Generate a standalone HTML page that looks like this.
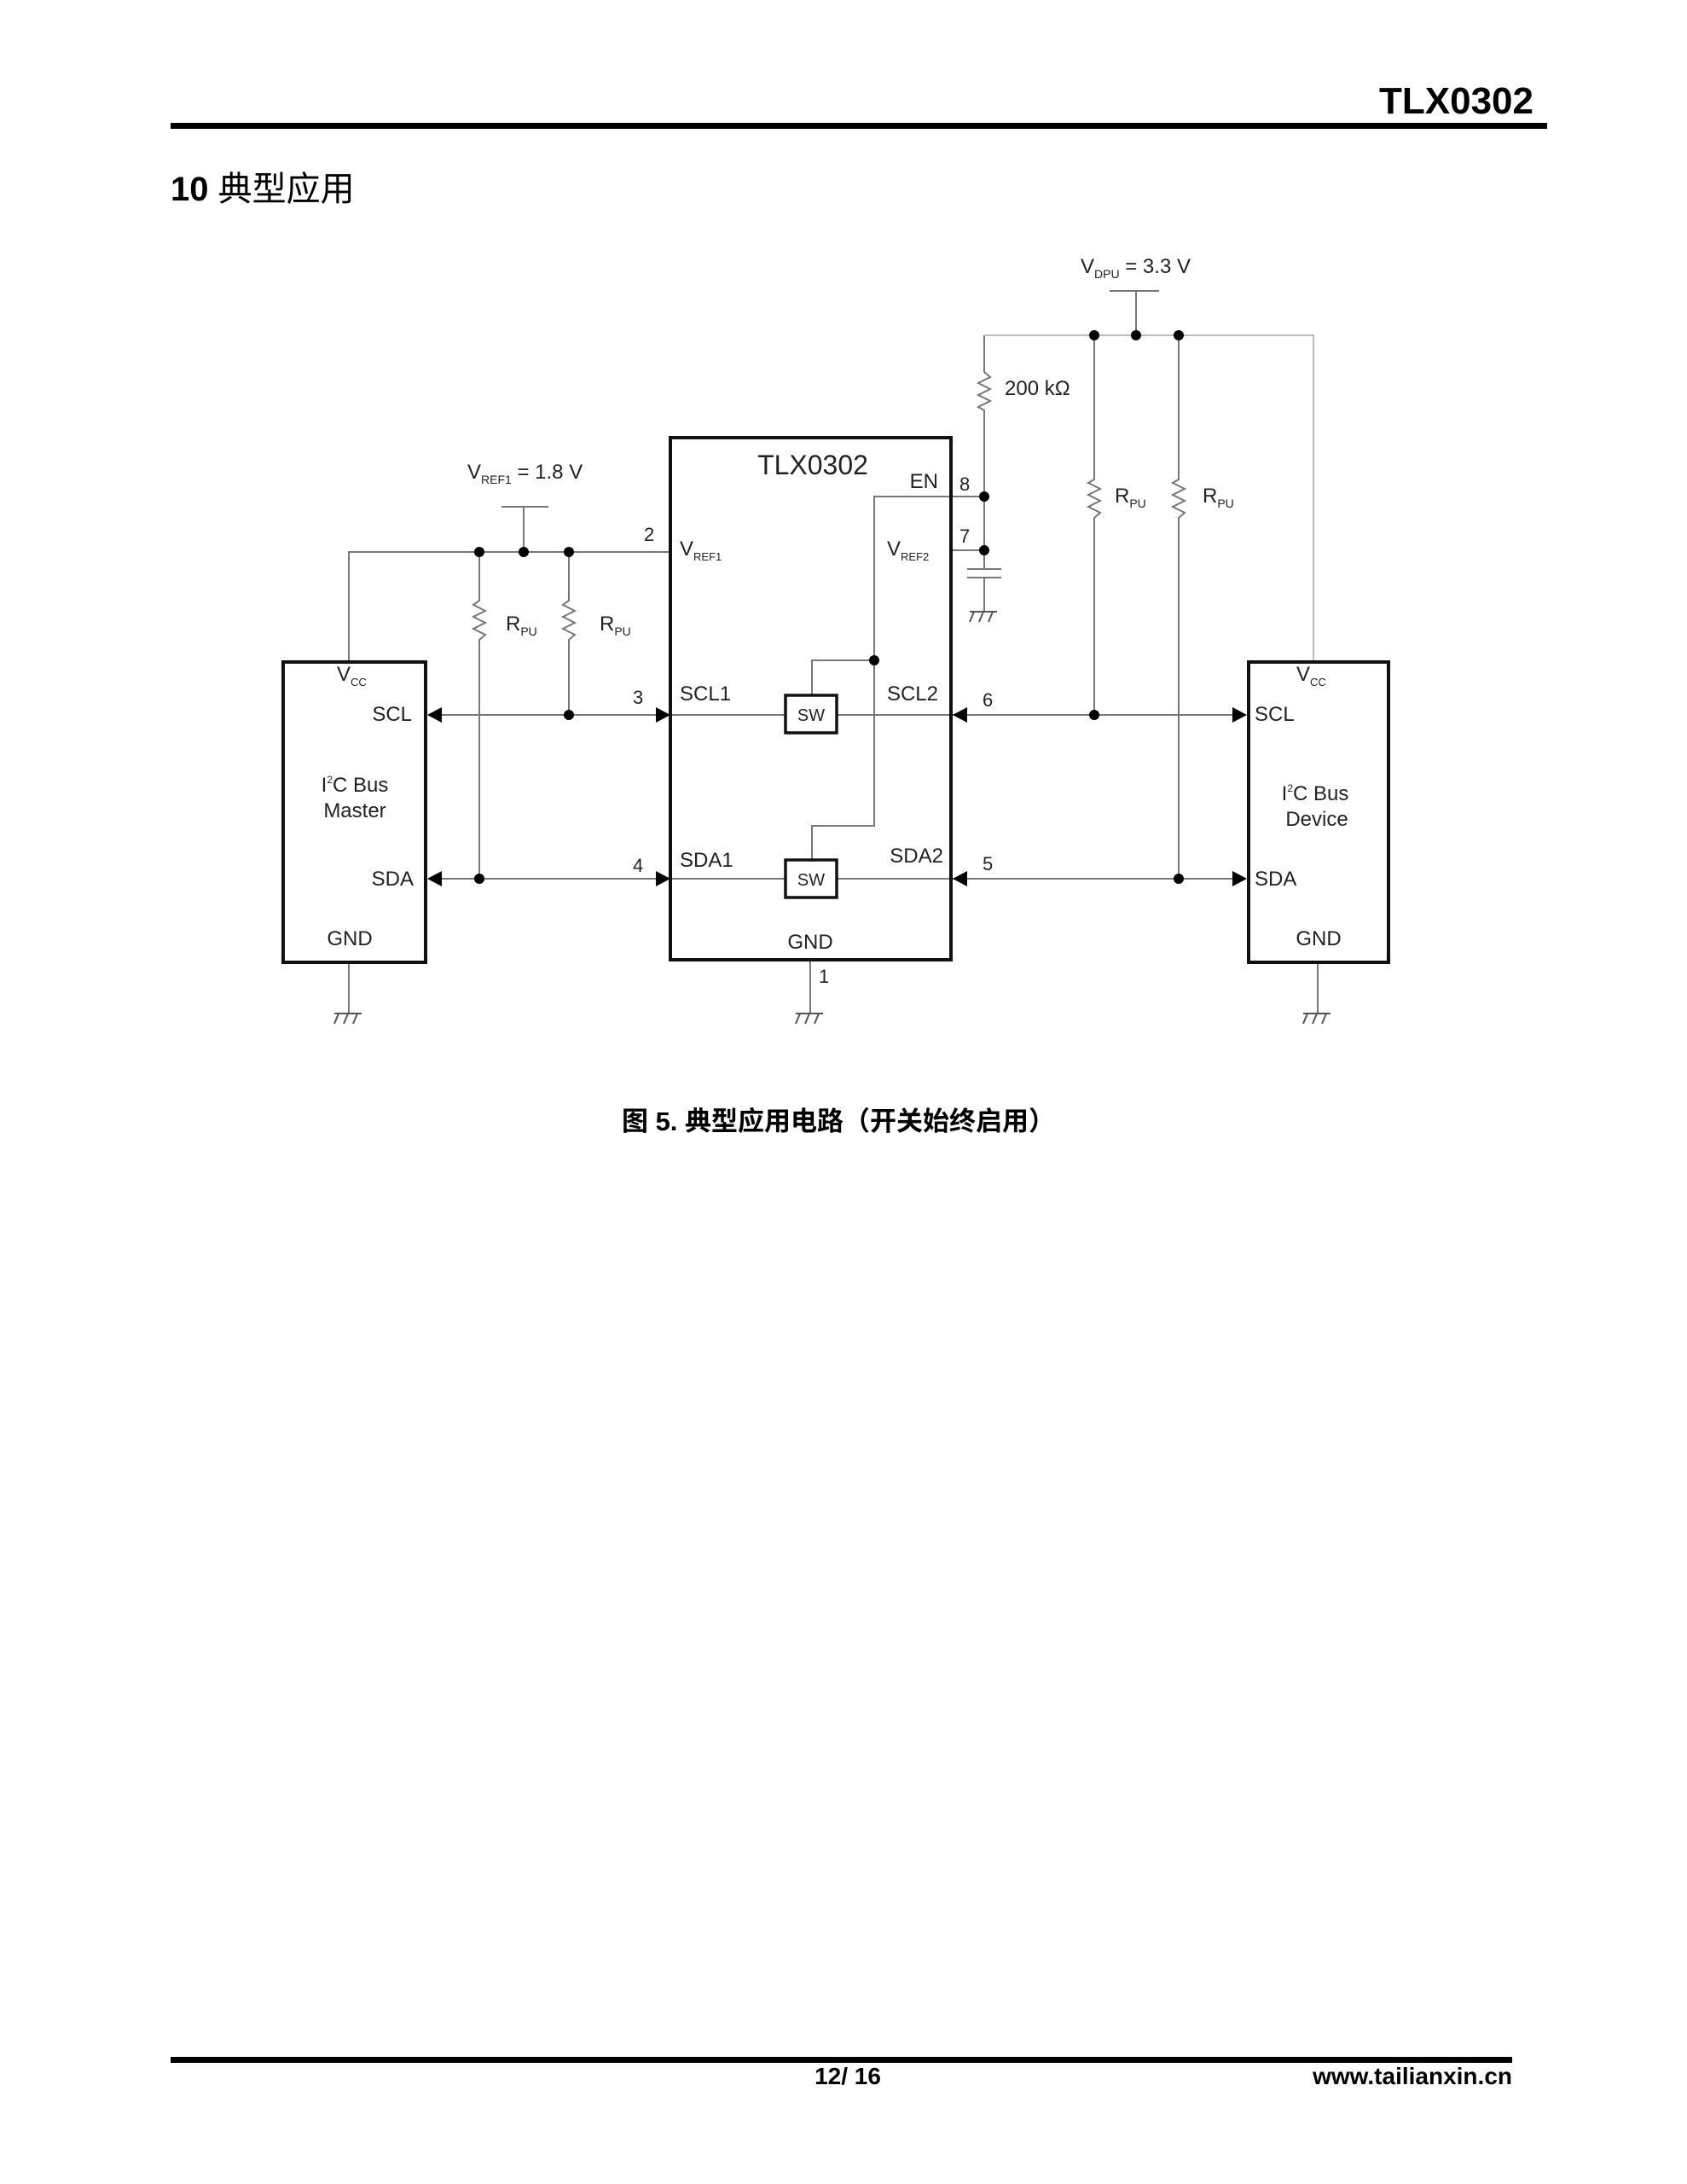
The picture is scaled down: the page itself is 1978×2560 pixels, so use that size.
<!DOCTYPE html>
<html><head><meta charset="utf-8">
<style>
html,body{margin:0;padding:0;background:#fff;}
body{width:1978px;height:2560px;position:relative;overflow:hidden;}
svg{position:absolute;left:0;top:0;}
</style></head>
<body>
<svg width="1978" height="2560" viewBox="0 0 1978 2560" xmlns="http://www.w3.org/2000/svg" font-family="'Liberation Sans', 'Noto Sans CJK SC', sans-serif">
<text x="1798" y="133" text-anchor="end" font-size="44" font-weight="bold" font-family="'Liberation Sans Narrow','Liberation Sans',sans-serif">TLX0302</text>
<rect x="200" y="144" width="1614" height="7" fill="#000"/>
<text x="200" y="235" font-size="40" font-weight="bold" font-family="'Liberation Sans','Noto Sans CJK SC',sans-serif">10 <tspan font-weight="normal">典型应用</tspan></text>

<g fill="none" stroke="#777" stroke-width="2">
<polyline points="409,776 409,647 786,647"/>
<line x1="614" y1="594" x2="614" y2="647"/>
<line x1="588" y1="594" x2="643" y2="594"/>
<polyline points="562,647 562,704 555,709 569,716 555,723 569,730 555,737 569,744 562,750 562,1030"/>
<polyline points="667,647 667,704 660,709 674,716 660,723 674,730 660,737 674,744 667,750 667,838"/>
<line x1="518" y1="838" x2="921" y2="838"/>
<line x1="518" y1="1030" x2="921" y2="1030"/>
<line x1="981" y1="838" x2="1446" y2="838"/>
<line x1="981" y1="1030" x2="1446" y2="1030"/>
<polyline points="1154,582 1025,582 1025,968 952,968 952,1010"/>
<polyline points="1025,774 952,774 952,815"/>
<line x1="1115" y1="645" x2="1154" y2="645"/>
<line x1="1154" y1="582" x2="1154" y2="667"/>
<line x1="1134" y1="667" x2="1174" y2="667"/>
<line x1="1134" y1="677" x2="1174" y2="677"/>
<line x1="1154" y1="677" x2="1154" y2="717"/>
<polyline points="1154,582 1154,481 1147,477 1161,470 1147,463 1161,456 1147,449 1161,442 1154,436 1154,393"/>
<polyline points="1283,393 1283,562 1276,566 1290,573 1276,580 1290,587 1276,594 1290,601 1283,607 1283,838"/>
<polyline points="1382,393 1382,562 1375,566 1389,573 1375,580 1389,587 1375,594 1389,601 1382,607 1382,1030"/>
<line x1="1332" y1="341" x2="1332" y2="393"/>
<line x1="1301" y1="341" x2="1359" y2="341"/>
<line x1="409" y1="1128" x2="409" y2="1188"/>
<line x1="950" y1="1125" x2="950" y2="1188"/>
<line x1="1545" y1="1128" x2="1545" y2="1188"/>
</g>
<g fill="none" stroke="#bbb" stroke-width="2">
<polyline points="1154,393 1540,393 1540,776"/>
</g>
<g fill="none" stroke="#555" stroke-width="2">
<line x1="392" y1="1188" x2="424" y2="1188"/><line x1="397" y1="1188" x2="392" y2="1200"/><line x1="408" y1="1188" x2="403" y2="1200"/><line x1="419" y1="1188" x2="414" y2="1200"/>
<line x1="933" y1="1188" x2="965" y2="1188"/><line x1="938" y1="1188" x2="933" y2="1200"/><line x1="949" y1="1188" x2="944" y2="1200"/><line x1="960" y1="1188" x2="955" y2="1200"/>
<line x1="1528" y1="1188" x2="1560" y2="1188"/><line x1="1533" y1="1188" x2="1528" y2="1200"/><line x1="1544" y1="1188" x2="1539" y2="1200"/><line x1="1555" y1="1188" x2="1550" y2="1200"/>
<line x1="1137" y1="717" x2="1169" y2="717"/><line x1="1142" y1="717" x2="1137" y2="729"/><line x1="1153" y1="717" x2="1148" y2="729"/><line x1="1164" y1="717" x2="1159" y2="729"/>
</g>
<g fill="none" stroke="#111" stroke-width="4">
<rect x="332" y="776" width="167" height="352"/>
<rect x="786" y="513" width="329" height="612"/>
<rect x="1464" y="776" width="164" height="352"/>
<rect x="921" y="815" width="60" height="44" stroke-width="3.5"/>
<rect x="921" y="1008" width="60" height="44" stroke-width="3.5"/>
</g>
<g fill="#000">
<circle cx="562" cy="647" r="6"/><circle cx="614" cy="647" r="6"/><circle cx="667" cy="647" r="6"/>
<circle cx="667" cy="838" r="6"/><circle cx="562" cy="1030" r="6"/>
<circle cx="1025" cy="774" r="6"/>
<circle cx="1154" cy="582" r="6"/><circle cx="1154" cy="645" r="6"/>
<circle cx="1283" cy="393" r="6"/><circle cx="1332" cy="393" r="6"/><circle cx="1382" cy="393" r="6"/>
<circle cx="1283" cy="838" r="6"/><circle cx="1382" cy="1030" r="6"/>
<polygon points="501,838 518,829 518,847"/>
<polygon points="501,1030 518,1021 518,1039"/>
<polygon points="786,838 769,829 769,847"/>
<polygon points="786,1030 769,1021 769,1039"/>
<polygon points="1117,838 1134,829 1134,847"/>
<polygon points="1117,1030 1134,1021 1134,1039"/>
<polygon points="1462,838 1445,829 1445,847"/>
<polygon points="1462,1030 1445,1021 1445,1039"/>
</g>
<g font-family="'Liberation Sans Narrow','Liberation Sans',sans-serif" fill="#222" font-size="24">
<text x="953" y="556" text-anchor="middle" font-size="32">TLX0302</text>
<text x="1100" y="572" text-anchor="end">EN</text>
<text x="1125" y="575" font-size="22">8</text>
<text x="1125" y="636" font-size="22">7</text>
<text x="1040" y="651">V<tspan font-size="13" dy="6">REF2</tspan></text>
<text x="797" y="651">V<tspan font-size="13" dy="6">REF1</tspan></text>
<text x="755" y="634" font-size="22">2</text>
<text x="742" y="825" font-size="22">3</text>
<text x="742" y="1022" font-size="22">4</text>
<text x="1152" y="828" font-size="22">6</text>
<text x="1152" y="1020" font-size="22">5</text>
<text x="960" y="1152" font-size="22">1</text>
<text x="797" y="821">SCL1</text>
<text x="797" y="1016">SDA1</text>
<text x="1100" y="821" text-anchor="end">SCL2</text>
<text x="1106" y="1011" text-anchor="end">SDA2</text>
<text x="950" y="1112" text-anchor="middle">GND</text>
<text x="951" y="845" text-anchor="middle" font-size="20">SW</text>
<text x="951" y="1038" text-anchor="middle" font-size="20">SW</text>
<text x="548" y="561">V<tspan font-size="14" dy="6">REF1</tspan><tspan dy="-6"> = 1.8 V</tspan></text>
<text x="1267" y="320">V<tspan font-size="14" dy="6">DPU</tspan><tspan dy="-6"> = 3.3 V</tspan></text>
<text x="1178" y="463">200 kΩ</text>
<text x="593" y="739">R<tspan font-size="14" dy="6">PU</tspan></text>
<text x="703" y="739">R<tspan font-size="14" dy="6">PU</tspan></text>
<text x="1307" y="589">R<tspan font-size="14" dy="6">PU</tspan></text>
<text x="1410" y="589">R<tspan font-size="14" dy="6">PU</tspan></text>
<text x="395" y="798">V<tspan font-size="13" dy="6">CC</tspan></text>
<text x="483" y="845" text-anchor="end">SCL</text>
<text x="485" y="1038" text-anchor="end">SDA</text>
<text x="416" y="928" text-anchor="middle">I<tspan font-size="12" dy="-10">2</tspan><tspan dy="10">C Bus</tspan></text>
<text x="416" y="958" text-anchor="middle">Master</text>
<text x="410" y="1108" text-anchor="middle">GND</text>
<text x="1520" y="798">V<tspan font-size="13" dy="6">CC</tspan></text>
<text x="1471" y="845">SCL</text>
<text x="1471" y="1038">SDA</text>
<text x="1542" y="938" text-anchor="middle">I<tspan font-size="12" dy="-10">2</tspan><tspan dy="10">C Bus</tspan></text>
<text x="1544" y="968" text-anchor="middle">Device</text>
<text x="1546" y="1108" text-anchor="middle">GND</text>
</g>
<text x="983" y="1325" text-anchor="middle" font-size="31" font-weight="bold" font-family="'Liberation Sans','Noto Sans CJK SC',sans-serif">图 5. 典型应用电路（开关始终启用）</text>
<rect x="200" y="2411" width="1573" height="7" fill="#000"/>
<text x="994" y="2443" text-anchor="middle" font-size="28" font-weight="bold" font-family="'Liberation Sans Narrow','Liberation Sans',sans-serif">12/ 16</text>
<text x="1773" y="2443" text-anchor="end" font-size="28" font-weight="bold" font-family="'Liberation Sans Narrow','Liberation Sans',sans-serif">www.tailianxin.cn</text>
</svg>
</body></html>
